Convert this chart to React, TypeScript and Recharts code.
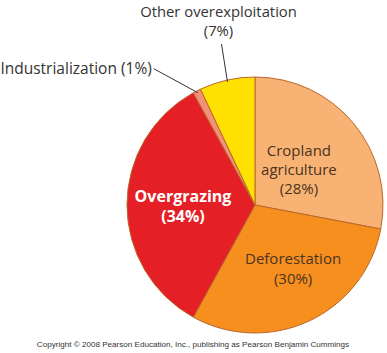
import React from "react";
import { PieChart, Pie, Cell } from "recharts";

const categories = ["Cropland agriculture", "Deforestation", "Overgrazing", "Industrialization", "Other overexploitation"];
const percents = [28, 30, 34, 1, 7];
const colors = ["#F8B274", "#F78F1F", "#E51F26", "#F29079", "#FFE000"];

const data = categories.map((name, i) => ({ name, value: percents[i] }));

const FONT = "'Open Sans', 'Noto Sans', sans-serif";
const RAD = Math.PI / 180;

const renderLabel = (props: any) => {
  const { cx, cy, midAngle, outerRadius, index, name, value } = props;
  const pct = `(${value}%)`;
  const pt = (r: number) => ({ x: cx + r * Math.cos(-midAngle * RAD), y: cy + r * Math.sin(-midAngle * RAD) });
  if (index === 0) {
    const p = pt(57);
    return (
      <text x={p.x} y={p.y} textAnchor="middle" fontFamily={FONT} fontSize={15} fill="#4a3322">
        <tspan x={p.x} dy={-13}>Cropland</tspan>
        <tspan x={p.x} dy={19}>agriculture</tspan>
        <tspan x={p.x} dy={19}>{pct}</tspan>
      </text>
    );
  }
  if (index === 1) {
    const p = pt(73);
    const x = p.x + 7;
    return (
      <text x={x} y={p.y} textAnchor="middle" fontFamily={FONT} fontSize={15} fill="#4a3322">
        <tspan x={x} dy={-7}>Deforestation</tspan>
        <tspan x={x} dy={20}>{pct}</tspan>
      </text>
    );
  }
  if (index === 2) {
    const p = pt(72);
    return (
      <text x={p.x} y={p.y} textAnchor="middle" fontFamily={FONT} fontSize={16} fontWeight="bold" fill="#ffffff">
        <tspan x={p.x} dy={-3}>Overgrazing</tspan>
        <tspan x={p.x} dy={20}>{pct}</tspan>
      </text>
    );
  }
  if (index === 3) {
    const p = pt(outerRadius - 2);
    return (
      <g>
        <line x1={p.x} y1={p.y} x2={p.x - 44} y2={p.y - 24} stroke="#333" strokeWidth={1} />
        <text x={p.x - 46} y={p.y - 19} textAnchor="end" fontFamily={FONT} fontSize={15.5} fill="#333">
          {`${name} ${pct}`}
        </text>
      </g>
    );
  }
  const p = pt(outerRadius - 2);
  return (
    <g>
      <line x1={p.x} y1={p.y} x2={p.x - 6} y2={p.y - 38} stroke="#333" strokeWidth={1} />
      <text x={p.x - 9} y={p.y} textAnchor="middle" fontFamily={FONT} fontSize={14.8} fill="#333">
        <tspan x={p.x - 9} dy={-65}>Other overexploitation</tspan>
        <tspan x={p.x - 9} dy={19}>{pct}</tspan>
      </text>
    </g>
  );
};

export default function App() {
  return (
    <div style={{ position: "absolute", left: 0, top: 0, width: 387, height: 353, background: "#fff" }}>
      <PieChart width={387} height={353} margin={{ top: 0, right: 0, bottom: 0, left: 0 }}>
        <Pie
          data={data}
          dataKey="value"
          nameKey="name"
          cx={255}
          cy={205}
          outerRadius={128}
          startAngle={90}
          endAngle={-270}
          stroke="#b9682a"
          strokeWidth={1}
          label={renderLabel}
          labelLine={false}
          isAnimationActive={false}
        >
          {data.map((d, i) => (
            <Cell key={d.name} fill={colors[i]} />
          ))}
        </Pie>
        <text x={193} y={347} textAnchor="middle" fontFamily="'Liberation Sans', Arial, sans-serif" fontSize={8.1} fill="#333">
          Copyright © 2008 Pearson Education, Inc., publishing as Pearson Benjamin Cummings
        </text>
      </PieChart>
    </div>
  );
}
